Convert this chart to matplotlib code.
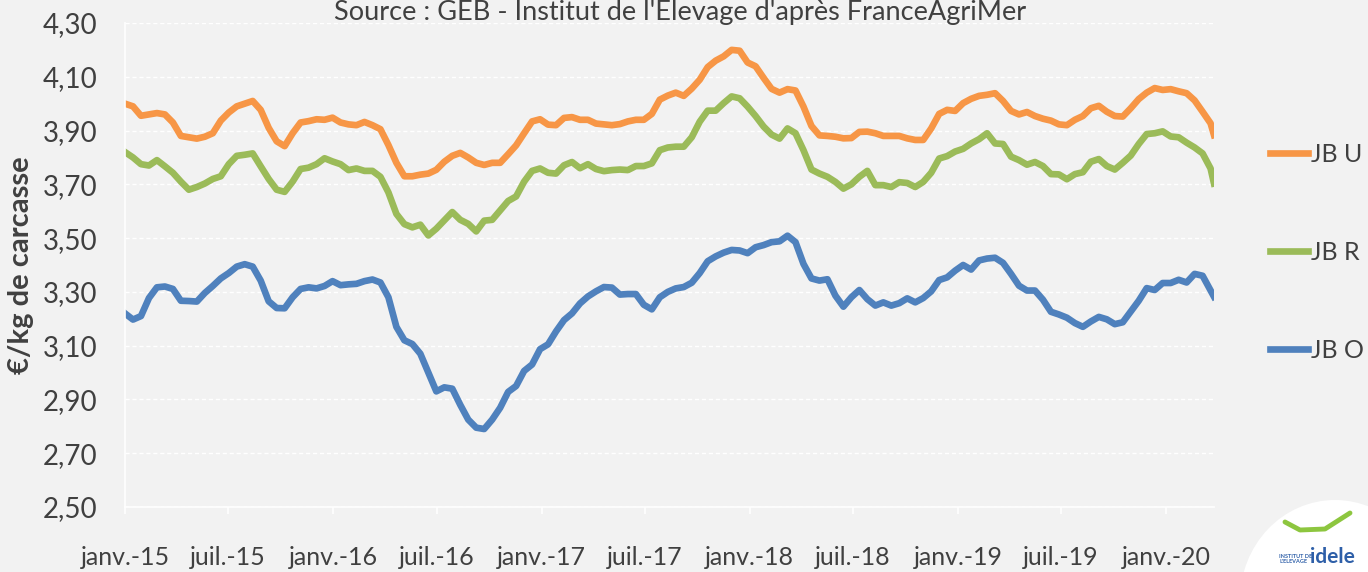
import matplotlib.pyplot as plt
import pandas as pd
from matplotlib.patches import Ellipse
from matplotlib.lines import Line2D

# Weekly prices read every two weeks from the chart (EUR/kg carcass)
dates = list(pd.date_range('2015-01-01', periods=137, freq='14D')) + [pd.Timestamp('2020-03-25')]

jb_u = [4.00, 3.99, 3.955, 3.96, 3.965, 3.96, 3.93, 3.88, 3.875, 3.87, 3.877, 3.89, 3.937, 3.967,
        3.99, 4.00, 4.01, 3.977, 3.91, 3.86, 3.842, 3.89, 3.93,
        3.935, 3.942, 3.94, 3.948, 3.93, 3.923, 3.92, 3.932, 3.92, 3.905, 3.846, 3.78, 3.73, 3.73,
        3.736, 3.74, 3.754, 3.784, 3.806, 3.817, 3.80, 3.78, 3.772,
        3.78, 3.78, 3.812, 3.845, 3.89, 3.934, 3.942, 3.922, 3.92, 3.947, 3.95, 3.94, 3.94, 3.926,
        3.923, 3.92, 3.924, 3.934, 3.94, 3.94, 3.962, 4.015,
        4.03, 4.041, 4.029, 4.056, 4.089, 4.136, 4.16, 4.176, 4.20, 4.197, 4.153, 4.139, 4.096,
        4.055, 4.041, 4.054, 4.049, 3.989, 3.917, 3.882, 3.88, 3.877, 3.871,
        3.872, 3.895, 3.896, 3.89, 3.88, 3.88, 3.88, 3.871, 3.865, 3.865, 3.908, 3.962, 3.977,
        3.973, 4.002, 4.018, 4.029, 4.033, 4.039, 4.01, 3.973, 3.96,
        3.969, 3.954, 3.944, 3.937, 3.923, 3.92, 3.94, 3.954, 3.983, 3.992, 3.97, 3.954, 3.952,
        3.983, 4.017, 4.041, 4.058, 4.051, 4.054, 4.046, 4.039, 4.012, 3.97, 3.927,
        3.883]

jb_r = [3.82, 3.80, 3.775, 3.77, 3.79, 3.767, 3.743, 3.71, 3.68, 3.69, 3.703, 3.72, 3.73, 3.775,
        3.806, 3.81, 3.815, 3.767, 3.72, 3.68, 3.672, 3.71, 3.757,
        3.762, 3.775, 3.797, 3.785, 3.775, 3.753, 3.759, 3.75, 3.75, 3.728, 3.67, 3.59, 3.552,
        3.54, 3.55, 3.51, 3.535, 3.566, 3.597, 3.568, 3.553, 3.525, 3.565,
        3.568, 3.603, 3.638, 3.655, 3.71, 3.75, 3.759, 3.743, 3.74, 3.771, 3.783, 3.76, 3.775,
        3.757, 3.749, 3.753, 3.755, 3.753, 3.768, 3.768, 3.778, 3.827,
        3.837, 3.84, 3.84, 3.875, 3.933, 3.974, 3.974, 4.002, 4.027, 4.02, 3.989, 3.954, 3.915,
        3.885, 3.87, 3.908, 3.89, 3.827, 3.755, 3.74, 3.728, 3.709, 3.684,
        3.70, 3.728, 3.75, 3.697, 3.697, 3.69, 3.708, 3.705, 3.69, 3.709, 3.743, 3.796, 3.805,
        3.822, 3.832, 3.852, 3.868, 3.89, 3.852, 3.85, 3.803, 3.79,
        3.773, 3.783, 3.768, 3.738, 3.737, 3.719, 3.738, 3.745, 3.784, 3.794, 3.768, 3.755, 3.78,
        3.807, 3.85, 3.887, 3.89, 3.897, 3.878, 3.875, 3.855, 3.837, 3.815, 3.759,
        3.703]

jb_o = [3.22, 3.197, 3.21, 3.277, 3.317, 3.32, 3.311, 3.267, 3.266, 3.264, 3.296, 3.322, 3.35,
        3.37, 3.394, 3.403, 3.394, 3.342, 3.265, 3.24, 3.239, 3.28, 3.311,
        3.317, 3.313, 3.322, 3.34, 3.325, 3.328, 3.33, 3.34, 3.346, 3.335, 3.28, 3.17, 3.12,
        3.106, 3.07, 3.00, 2.93, 2.945, 2.94, 2.88, 2.825, 2.795, 2.79,
        2.825, 2.869, 2.928, 2.95, 3.006, 3.03, 3.087, 3.105, 3.153, 3.195, 3.22, 3.257, 3.283,
        3.302, 3.318, 3.316, 3.29, 3.292, 3.292, 3.252, 3.235, 3.28,
        3.30, 3.313, 3.318, 3.334, 3.37, 3.414, 3.432, 3.446, 3.456, 3.454, 3.444, 3.466, 3.474,
        3.485, 3.488, 3.509, 3.485, 3.404, 3.35, 3.342, 3.347, 3.286, 3.245,
        3.28, 3.307, 3.273, 3.249, 3.261, 3.249, 3.258, 3.276, 3.261, 3.277, 3.302, 3.344, 3.354,
        3.379, 3.40, 3.383, 3.417, 3.424, 3.427, 3.408, 3.367, 3.323,
        3.305, 3.305, 3.271, 3.226, 3.216, 3.204, 3.184, 3.17, 3.19, 3.207, 3.198, 3.18, 3.187,
        3.227, 3.267, 3.314, 3.307, 3.333, 3.333, 3.345, 3.335, 3.367, 3.36, 3.305,
        3.282]

tick_dates = pd.date_range('2015-01-01', '2020-01-01', freq='6MS')
tick_labels = ['janv.-15', 'juil.-15', 'janv.-16', 'juil.-16', 'janv.-17', 'juil.-17',
               'janv.-18', 'juil.-18', 'janv.-19', 'juil.-19', 'janv.-20']
y_ticks = [2.5, 2.7, 2.9, 3.1, 3.3, 3.5, 3.7, 3.9, 4.1, 4.3]

bg = '#F2F2F2'
txt = '#404040'
plt.rcParams['font.family'] = ['Lato', 'DejaVu Sans']

fig = plt.figure(figsize=(13.68, 5.72), dpi=100, facecolor=bg)
ax = fig.add_axes([125 / 1368, 1 - 507 / 572, (1214 - 125) / 1368, (507 - 23) / 572])
ax.set_facecolor(bg)

ax.plot(dates, jb_u, color='#F79646', lw=4.8, solid_joinstyle='round', label='JB U')
ax.plot(dates, jb_r, color='#9BBB59', lw=4.8, solid_joinstyle='round', label='JB R')
ax.plot(dates, jb_o, color='#4F81BD', lw=4.8, solid_joinstyle='round', label='JB O')

ax.set_xlim(pd.Timestamp('2015-01-01'), pd.Timestamp('2020-03-25'))
ax.set_ylim(2.5, 4.3)
ax.set_yticks(y_ticks)
ax.set_yticklabels([f'{v:.2f}'.replace('.', ',') for v in y_ticks])
ax.set_xticks(tick_dates)
ax.set_xticklabels(tick_labels)

ax.yaxis.grid(True, color='white', linestyle=(0, (3, 2)), linewidth=1)
ax.set_axisbelow(True)
for side in ['top', 'right']:
    ax.spines[side].set_visible(False)
for side in ['left', 'bottom']:
    ax.spines[side].set_color('white')
    ax.spines[side].set_linewidth(1.2)

ax.tick_params(axis='y', length=0, pad=20, labelsize=20, labelcolor=txt)
ax.tick_params(axis='x', length=5, width=1.2, color='white', pad=23, labelsize=18, labelcolor=txt)

ax.set_ylabel('€/kg de carcasse', fontsize=21, fontweight='bold', color=txt)
ax.yaxis.set_label_coords(-0.084, 0.5)

fig.text(0.497, 0.978, "Source : GEB - Institut de l'Elevage d'après FranceAgriMer",
         ha='center', va='center', fontsize=19.5, color=txt)

fig.legend(loc='center left', bbox_to_anchor=(0.928, 0.559), frameon=False,
           fontsize=18, labelspacing=3.0, handlelength=1.55, handletextpad=0.1,
           labelcolor=txt, borderaxespad=0, borderpad=0)

# logo corner
fig.patches.append(Ellipse((1335 / 1368, 1 - 600 / 572), 190 / 1368, 200 / 572,
                           transform=fig.transFigure, facecolor='white', edgecolor='none'))
fig.lines.append(Line2D([1285 / 1368, 1300 / 1368, 1325 / 1368, 1350 / 1368],
                        [1 - 522 / 572, 1 - 530 / 572, 1 - 529 / 572, 1 - 513 / 572],
                        transform=fig.transFigure, color='#8DC63F', lw=3.5,
                        solid_capstyle='round'))
fig.text(1279 / 1368, 1 - 559 / 572, "INSTITUT DE\nL'ELEVAGE", fontsize=4, color='#2E5FA8',
         fontweight='bold', ha='left', va='center', linespacing=1.0)
fig.text(1310 / 1368, 1 - 557 / 572, 'idele', fontsize=15, color='#2E5FA8',
         fontweight='bold', ha='left', va='center')

fig.savefig('out.png', dpi=100, facecolor=bg)
